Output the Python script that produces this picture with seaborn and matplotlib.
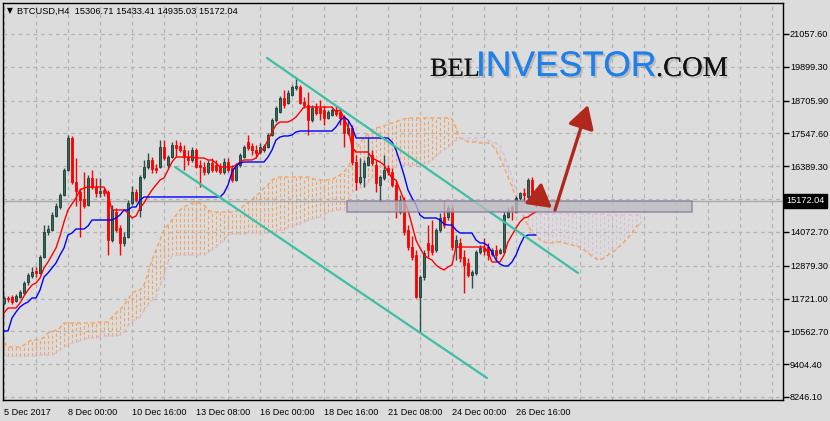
import numpy as np
import pandas as pd
import matplotlib
matplotlib.use("Agg")
import matplotlib.pyplot as plt
import matplotlib.patheffects as pe
from matplotlib.patches import Rectangle, FancyArrowPatch
import seaborn as sns

# ---- BTCUSD H4 candles (bar 0 = 5 Dec 2017 08:00) ----
opens = [11563, 11740, 11775, 11634, 11775, 11916, 12304, 12516, 12690, 12622,
         13186, 14069, 14139, 14633, 14951, 15374, 16257, 17386, 15833, 15480,
         15233, 15022, 15974, 15657, 15445, 15551, 15480, 13786, 14775, 14210,
         13681, 13892, 15092, 15480, 14845, 16010, 16363, 16610, 16327, 16363,
         17068, 16433, 16715, 17139, 17104, 16962, 16715, 16610, 16962, 16433,
         16363, 16186, 16504, 16433, 16363, 16186, 16539, 16327, 15904, 16433,
         16715, 17245, 17104, 16962, 16892, 16962, 17068, 17492, 18021, 18304,
         18798, 18621, 18903, 19150, 19186, 18656, 18551, 18021, 18480, 18445,
         18374, 18092, 18198, 18374, 18304, 18127, 17562, 17739, 16539, 15833,
         16010, 16433, 16786, 16433, 15727, 15974, 16327, 16186, 15727, 14775,
         15198, 14139, 13539, 13257, 11775, 12481, 13681, 13610, 13433, 14139,
         14598, 14598, 14916, 13539, 13681, 13186, 12975, 12551, 12622, 13363,
         13504, 13539, 13292, 13433, 13328, 13363, 14598, 14951, 14775, 15269,
         15445, 15304, 15904, 15306.71]
highs = [11810, 11810, 11845, 11881, 12022, 12340, 12622, 12834, 12834, 13257,
         14316, 14316, 14775, 15092, 15445, 16327, 17492, 17457, 16680, 15621,
         16186, 16080, 16257, 15974, 15974, 15621, 15551, 15022, 14916, 14316,
         14069, 15198, 15692, 15586, 16080, 16610, 16857, 16715, 16468, 17315,
         17315, 16786, 17245, 17315, 17245, 17139, 16962, 17068, 17033, 16610,
         16539, 16610, 16680, 16610, 16504, 16680, 16680, 16433, 16504, 16857,
         17139, 17492, 17210, 17139, 17210, 17174, 17562, 18092, 18515, 18868,
         19080, 19080, 19256, 19539, 19256, 18833, 19009, 18551, 18621, 18727,
         18515, 18374, 18445, 18551, 18445, 18198, 18021, 17845, 16786, 16680,
         16610, 17386, 16962, 16610, 16080, 16786, 16433, 16327, 15904, 15374,
         15304, 14316, 13928, 13433, 12551, 13433, 14316, 14492, 14210, 14739,
         15198, 15022, 15022, 13963, 13857, 13433, 13151, 12728, 13433, 13610,
         13857, 13681, 13504, 13610, 13504, 14775, 14951, 15022, 15339, 15480,
         15621, 15974, 16010, 15433.41]
lows = [11493, 11598, 11528, 11598, 11740, 11881, 12198, 12445, 12481, 12587,
        13151, 13963, 14104, 14598, 14880, 15339, 16221, 15763, 14986, 13892,
        14916, 14986, 15586, 15304, 15304, 15339, 13257, 13716, 14069, 13257,
        13575, 13857, 15022, 15127, 14598, 15939, 16292, 16151, 16151, 16327,
        16610, 16327, 16680, 16715, 16892, 16257, 16433, 16539, 16327, 15657,
        16080, 16116, 16186, 16186, 16116, 16116, 16186, 15833, 15868, 16363,
        16680, 16962, 16786, 16680, 16821, 16892, 17033, 17457, 17951, 18268,
        18445, 18586, 18868, 19080, 18586, 18445, 17492, 17951, 18198, 18021,
        17845, 18056, 18162, 18162, 17845, 17068, 17492, 16433, 15551, 15763,
        15657, 16398, 16433, 15480, 15127, 15904, 16080, 15657, 14563, 14704,
        13963, 13433, 13081, 11740, 10504, 12375, 13186, 13257, 13363, 14069,
        14210, 14492, 13433, 13081, 13010, 11916, 12481, 12092, 12551, 13292,
        13257, 13081, 13222, 13081, 13292, 13328, 14563, 14492, 14739, 15198,
        15092, 15269, 15198, 14935.03]
closes = [11740, 11704, 11598, 11810, 11951, 12269, 12551, 12657, 12622, 13186,
          14069, 14175, 14669, 14986, 15374, 16257, 17386, 15833, 15516, 15198,
          14986, 15974, 15657, 15445, 15516, 15445, 13786, 14845, 14139, 13681,
          13892, 15092, 15480, 15198, 16010, 16363, 16610, 16292, 16257, 17068,
          16680, 16715, 17139, 17033, 16962, 16715, 16610, 16962, 16363, 16363,
          16186, 16504, 16257, 16257, 16186, 16539, 16257, 15904, 16433, 16786,
          17068, 17033, 16962, 16857, 17068, 17104, 17492, 18021, 18445, 18798,
          18551, 18974, 19186, 19221, 18621, 18551, 18021, 18445, 18268, 18268,
          18092, 18304, 18374, 18233, 18092, 17562, 17739, 16539, 15833, 16010,
          16504, 16715, 16504, 15798, 16010, 16257, 16186, 15727, 14845, 15198,
          14069, 13539, 13186, 11775, 12481, 13328, 13433, 13363, 14139, 14563,
          14316, 14916, 13539, 13786, 13151, 12904, 12551, 12657, 13363, 13504,
          13398, 13257, 13433, 13257, 13433, 14669, 14775, 14845, 15269, 15445,
          15374, 15904, 15374, 15172.04]

# ---- Ichimoku ----
tenkan = [11210, 11387, 11387, 11387, 11563, 11810, 12022, 12198, 12269, 12445,
          12798, 13010, 13257, 13504, 13928, 14422, 14845, 15057, 15269, 15551,
          15621, 15657, 15657, 15657, 15657, 15657, 15374, 14845, 14845, 14845,
          14845, 14739, 14563, 14633, 14916, 15092, 15339, 15551, 15727, 15904,
          15974, 16257, 16539, 16715, 16715, 16715, 16715, 16715, 16680, 16680,
          16680, 16610, 16610, 16504, 16363, 16363, 16363, 16363, 16433, 16539,
          16610, 16610, 16610, 16680, 16892, 17033, 17315, 17598, 17845, 17951,
          17951, 17951, 18021, 18127, 18304, 18480, 18480, 18480, 18480, 18480,
          18480, 18480, 18480, 18304, 18374, 18092, 17774, 17068, 16892, 16892,
          16892, 16892, 16680, 16610, 16539, 16433, 16186, 15974, 15904, 15551,
          15198, 14845, 14316, 13786, 13504, 13257, 13151, 13081, 12904, 12798,
          12728, 12834, 12904, 13539, 13539, 13539, 13539, 13539, 13539, 13539,
          13539, 13363, 13010, 13010, 13010, 13257, 13716, 13963, 14210, 14422,
          14563, 14598, 14704, 14775]
kijun = [10575, 10575, 11034, 11246, 11422, 11528, 11598, 11740, 11740, 12022,
         12481, 12622, 12798, 12975, 13257, 13504, 13963, 14033, 14175, 14175,
         14175, 14280, 14492, 14492, 14492, 14492, 14492, 14492, 14563, 14669,
         14845, 14845, 14951, 14951, 15198, 15304, 15304, 15304, 15304, 15304,
         15304, 15304, 15304, 15304, 15304, 15304, 15304, 15304, 15304, 15304,
         15304, 15304, 15304, 15304, 15304, 15445, 15727, 16186, 16398, 16504,
         16539, 16539, 16539, 16539, 16539, 16539, 16715, 16962, 17315, 17421,
         17457, 17457, 17492, 17598, 17633, 17633, 17633, 17633, 17633, 17633,
         17633, 17633, 17633, 17774, 17986, 18127, 18021, 17774, 17386, 17386,
         17386, 17386, 17386, 17386, 17386, 17386, 17386, 17245, 16962, 16539,
         16080, 15551, 15269, 15022, 14669, 14563, 14563, 14563, 14563, 14492,
         14351, 14316, 14316, 14139, 14033, 14033, 14033, 14033, 13786, 13681,
         13681, 13575, 13363, 13081, 12939, 12869, 12869, 13010, 13257, 13610,
         13892, 13963, 13963, 13963]
span_a = [10187, 10010, 10010, 10010, 10010, 10081, 10187, 10257, 10257, 10257,
          10363, 10504, 10540, 10610, 10681, 10857, 10857, 10857, 10857, 10857,
          10857, 10857, 10857, 10857, 10893, 10893, 10893, 11069, 11210, 11316,
          11493, 11669, 11916, 11987, 12022, 12198, 12622, 13081, 13433, 13786,
          14139, 14316, 14492, 14669, 14845, 14951, 15022, 15092, 15092, 15092,
          15022, 14845, 14775, 14775, 14775, 14775, 14775, 14775, 14810, 14845,
          15022, 15092, 15198, 15374, 15445, 15621, 15727, 15904, 15974, 16010,
          16010, 16010, 16010, 16010, 16010, 16010, 16010, 15974, 15904, 15904,
          15904, 15904, 15904, 16010, 16080, 16186, 16363, 16610, 16962, 17210,
          17386, 17527, 17668, 17739, 17774, 17809, 17880, 17915, 17951, 18021,
          18056, 18092, 18092, 18092, 18092, 18092, 18092, 18092, 18092, 18092,
          18092, 18092, 18056, 17739, 17386, 17315, 17245, 17245, 17245, 17210,
          17210, 17210, 17139, 16962, 16680, 16363, 16010, 15657, 15304, 14951,
          14563, 14280, 14069, 13928, 13786, 13716, 13681, 13681, 13716, 13716,
          13681, 13645, 13610, 13575, 13539, 13433, 13328, 13222, 13116, 13081,
          13151, 13257, 13363, 13433, 13575, 13716, 13857, 14033, 14245, 14351]
span_b = [9693, 9693, 9693, 9693, 9693, 9693, 9693, 9693, 9693, 9728,
          9728, 9728, 9728, 9799, 9904, 10010, 10081, 10152, 10187, 10222,
          10257, 10328, 10328, 10328, 10399, 10399, 10399, 10399, 10399, 10434,
          10540, 10751, 10893, 10998, 11069, 11316, 11493, 11669, 11775, 12198,
          12551, 13010, 13222, 13257, 13257, 13257, 13257, 13257, 13257, 13257,
          13257, 13363, 13433, 13539, 13681, 13786, 13963, 13998, 13998, 13998,
          13998, 14033, 14033, 14033, 14033, 14033, 14033, 14033, 14069, 14139,
          14139, 14245, 14280, 14316, 14351, 14422, 14492, 14527, 14563, 14598,
          14669, 14775, 14810, 14845, 14845, 14845, 15198, 15480, 15551, 15621,
          15657, 15833, 16010, 16080, 16151, 16186, 16257, 16327, 16363, 16433,
          16433, 16433, 16433, 16433, 16433, 16468, 16504, 16610, 16751, 16857,
          16962, 17068, 17210, 17315, 17386, 17386, 17386, 17386, 17386, 17421,
          17386, 17315, 17245, 17210, 17139, 16786, 16433, 15974, 15551, 15198,
          14916, 14775, 14739, 14704, 14704, 14704, 14704, 14704, 14704, 14704,
          14704, 14704, 14704, 14704, 14704, 14704, 14704, 14704, 14704, 14704,
          14704, 14669, 14669, 14669, 14669, 14669, 14669, 14669, 14669, 14669]

# ---- drawn objects (bar index, price) ----
channel_upper = ([65.75, 143.5], [20209, 12622])
channel_lower = ([42.75, 120.75], [16363, 8916])
zone_bars = [85.75, 171.9]
zone_prices = [14792, 15163]
arrow_short = ([133.5, 137.0], [15304, 14916])
arrow_long = ([137.75, 146.0], [14845, 18551])
last_price = 15172.04

price_ticks = [8246.10, 9404.40, 10562.70, 11721.00, 12879.30, 14072.70, 15231.00,
               16389.30, 17547.60, 18705.90, 19899.30, 21057.60]
price_labels = ["8246.10", "9404.40", "10562.70", "11721.00", "12879.30", "14072.70", "",
                "16389.30", "17547.60", "18705.90", "19899.30", "21057.60"]
time_ticks = [0, 16, 32, 48, 64, 80, 96, 112, 128]
time_labels = ["5 Dec 2017", "8 Dec 00:00", "10 Dec 16:00", "13 Dec 08:00", "16 Dec 00:00",
               "18 Dec 16:00", "21 Dec 08:00", "24 Dec 00:00", "26 Dec 16:00"]

sns.set_theme(style="white")
plt.rcParams['font.family'] = ['Liberation Sans', 'DejaVu Sans']
plt.rcParams['font.size'] = 6.6

BG = '#dcdcdc'
fig = plt.figure(figsize=(8.30, 4.21), dpi=100, facecolor=BG)
ax = fig.add_axes([3 / 830, 21 / 421, 780 / 830, 397 / 421])
ax.set_facecolor(BG)
ax.set_xlim(-0.25, 194.75)
ax.set_ylim(8140, 22150)

# grid
for p in price_ticks:
    ax.axhline(p, color='#b4b4b4', lw=0.9, ls=(0, (3, 3)), zorder=0)
for b in range(0, 195, 8):
    ax.axvline(b, color='#b4b4b4', lw=0.9, ls=(0, (3, 3)), zorder=0)

# cloud
cloud = pd.DataFrame({"bar": np.arange(len(span_a)), "a": span_a, "b": span_b})
bull = cloud["a"] >= cloud["b"]
ax.vlines(cloud.bar[bull], cloud.b[bull], cloud.a[bull], colors='#f4a460',
          lw=0.8, linestyles=(0, (3, 2)), zorder=1)
ax.vlines(cloud.bar[~bull], cloud.a[~bull], cloud.b[~bull], colors='#d8bfd8',
          lw=0.8, linestyles=(0, (3, 2)), zorder=1)
ax.plot(cloud.bar, cloud.a, color='#f4a460', lw=1, ls=(0, (3, 2)), zorder=1)
ax.plot(cloud.bar, cloud.b, color='#d8bfd8', lw=1, ls=(0, (3, 2)), zorder=1)

# current price line
ax.axhline(last_price, color='#a8a8a8', lw=1, zorder=1.5)

# candles
df = pd.DataFrame({"bar": np.arange(len(closes)), "open": opens, "high": highs,
                   "low": lows, "close": closes})
up = (df["close"] >= df["open"]).to_numpy()
body_lo = df[["open", "close"]].min(axis=1)
body_h = (df["close"] - df["open"]).abs().clip(lower=35)
ax.vlines(df.bar, df.low, df.high, colors=np.where(up, '#2f4f4f', '#ff0000').tolist(),
          lw=1, zorder=3)
ax.bar(df.bar, body_h, bottom=body_lo, width=0.72,
       color=np.where(up, '#346b5b', '#ff0000').tolist(),
       edgecolor=np.where(up, '#1d3a32', '#ff0000').tolist(), linewidth=0.6, zorder=4)

# tenkan / kijun
sns.lineplot(x=df.bar, y=tenkan, ax=ax, color='#ff0000', linewidth=1, legend=False, zorder=5)
sns.lineplot(x=df.bar, y=kijun, ax=ax, color='#0000ff', linewidth=1, legend=False, zorder=5)

# channel
for xs, ys in (channel_upper, channel_lower):
    ax.plot(xs, ys, color='#3dbfa3', lw=1.6, zorder=6)

# support zone
ax.add_patch(Rectangle((zone_bars[0], zone_prices[0]), zone_bars[1] - zone_bars[0],
                       zone_prices[1] - zone_prices[0], facecolor='#bcbcc2', alpha=0.78,
                       edgecolor='#8c7ca0', lw=1.2, zorder=7))

# arrows
for xs, ys in (arrow_short, arrow_long):
    ax.add_patch(FancyArrowPatch((xs[0], ys[0]), (xs[1], ys[1]),
                                 arrowstyle='-|>,head_length=0.7,head_width=0.4',
                                 mutation_scale=20, lw=2.4, color='#b0281c',
                                 shrinkA=0, shrinkB=0, zorder=8))

# axes styling
for s in ax.spines.values():
    s.set_color('black')
    s.set_linewidth(1)
ax.yaxis.tick_right()
ax.set_yticks(price_ticks)
ax.set_yticklabels(price_labels)
ax.set_xticks(time_ticks)
ax.set_xticklabels(time_labels)
ax.tick_params(axis='y', direction='out', length=4, width=1, color='black', pad=1,
               labelsize=6.6, labelcolor='black')
ax.tick_params(axis='x', direction='out', length=5, width=1, color='black', pad=0.5,
               labelsize=6.6, labelcolor='black')
for lbl in ax.get_xticklabels():
    lbl.set_ha('left')
ax.set_xlabel('')
ax.set_ylabel('')

ax.annotate(f"{last_price:.2f}", xy=(1.0, last_price), xycoords=('axes fraction', 'data'),
            xytext=(2.5, 0), textcoords='offset points', ha='left', va='center',
            color='white', fontsize=6.6,
            bbox=dict(boxstyle='square,pad=0.25', fc='black', ec='black'))

# header
fig.text(7 / 830, 1 - 11 / 421, "▼", fontsize=5.5, va='center', ha='left',
         family=['DejaVu Sans'], color='black')
fig.text(17 / 830, 1 - 11 / 421, "BTCUSD,H4  15306.71 15433.41 14935.03 15172.04",
         fontsize=6.7, va='center', ha='left', color='black')

# watermark
shadow = [pe.withSimplePatchShadow(offset=(1.5, -1.5), shadow_rgbFace='black', alpha=0.15),
          pe.Normal()]
fig.text(430 / 830, 1 - 76 / 421, "BEL", fontsize=19, family=['Liberation Serif'],
         color='#111111', va='baseline', ha='left', path_effects=shadow)
fig.text(476 / 830, 1 - 76 / 421, "INVESTOR", fontsize=25.5,
         family=['Liberation Sans', 'DejaVu Sans'],
         color='#1f80ea', va='baseline', ha='left', path_effects=shadow)
fig.text(656 / 830, 1 - 76 / 421, ".COM", fontsize=20.5, family=['Liberation Serif'],
         color='#111111', va='baseline', ha='left', path_effects=shadow)

fig.savefig("out.png", dpi=100, facecolor=BG)
